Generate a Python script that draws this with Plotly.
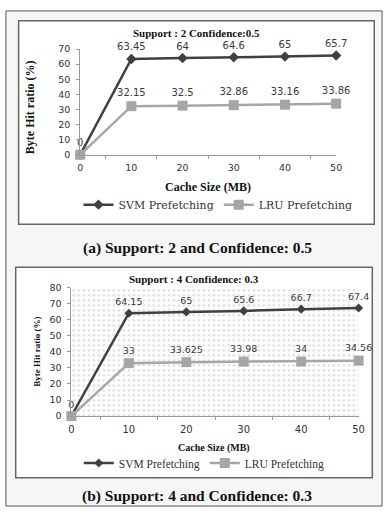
import plotly.graph_objects as go

# ---------------- data ----------------
cache_sizes = [0, 10, 20, 30, 40, 50]
svm_a = [0, 63.45, 64, 64.6, 65, 65.7]
lru_a = [0, 32.15, 32.5, 32.86, 33.16, 33.86]
svm_b = [0, 64.15, 65, 65.6, 66.7, 67.4]
lru_b = [0, 33, 33.625, 33.98, 34, 34.56]
y_ticks_a = [0, 10, 20, 30, 40, 50, 60, 70]
y_ticks_b = [0, 10, 20, 30, 40, 50, 60, 70, 80]
series_names = ["SVM Prefetching", "LRU Prefetching"]
title_a = "Support : 2 Confidence:0.5"
title_b = "Support : 4 Confidence: 0.3"
caption_a = "(a) Support: 2 and Confidence: 0.5"
caption_b = "(b) Support: 4 and Confidence: 0.3"
x_title = "Cache Size (MB)"
y_title = "Byte Hit ratio (%)"

W, H = 391, 514
def px(x):
    return x / W
def py(y):
    return 1 - y / H

SVM_COLOR = "#404040"
LRU_COLOR = "#a6a6a6"
SANS = "DejaVu Sans, Verdana, sans-serif"
SERIF = "'Liberation Serif', 'Times New Roman', Times, serif"
SERIF2 = "'DejaVu Serif', Georgia, serif"

def fmt(v):
    return f"{v:g}"

fig = go.Figure()

# dotted background of panel (b)
x0, x1 = min(cache_sizes), max(cache_sizes)
yb0, yb1 = min(y_ticks_b), max(y_ticks_b)
fig.add_trace(go.Scatter(
    x=[x0, x1, x1, x0, x0], y=[yb0, yb0, yb1, yb1, yb0],
    xaxis="x2", yaxis="y2", mode="lines", fill="toself",
    fillcolor="rgba(0,0,0,0)",
    fillpattern=dict(shape=".", fgcolor="#b4b4b4", bgcolor="white", size=5, solidity=0.2),
    line=dict(width=0), hoverinfo="skip", showlegend=False))

def add_panel(svm, lru, xa, ya, leg, dsize, ssize, lab_size):
    # where both series coincide only one label is visible (as in the source chart)
    lru_text = ["" if a == b else fmt(b) for a, b in zip(svm, lru)]
    fig.add_trace(go.Scatter(
        x=cache_sizes, y=svm, name=series_names[0], xaxis=xa, yaxis=ya, legend=leg,
        mode="lines+markers+text", text=[fmt(v) for v in svm], textposition="top center",
        textfont=dict(family=SANS, size=lab_size, color="#3a3a3a"),
        line=dict(color=SVM_COLOR, width=2.5),
        marker=dict(symbol="diamond", size=dsize, color=SVM_COLOR), cliponaxis=False))
    fig.add_trace(go.Scatter(
        x=cache_sizes, y=lru, name=series_names[1], xaxis=xa, yaxis=ya, legend=leg,
        mode="lines+markers+text", text=lru_text, textposition="top center",
        textfont=dict(family=SANS, size=lab_size, color="#3a3a3a"),
        line=dict(color=LRU_COLOR, width=2.5),
        marker=dict(symbol="square", size=ssize, color=LRU_COLOR), cliponaxis=False))

add_panel(svm_a, lru_a, "x", "y", "legend", 8, 10, 10)
add_panel(svm_b, lru_b, "x2", "y2", "legend2", 7, 10, 9.5)

def xaxis_cfg(domain, anchor, size):
    return dict(domain=domain, anchor=anchor, range=[x0, x1], tickvals=cache_sizes,
                ticktext=[fmt(v) for v in cache_sizes], ticks="", showline=True,
                linecolor="#9a9a9a", linewidth=1, showgrid=False, zeroline=False,
                ticklabelstandoff=4,
                tickfont=dict(family=SANS, size=size, color="#333"),
                minor=dict(ticks="outside", tick0=5, dtick=10, ticklen=3, tickcolor="#9a9a9a"))

def yaxis_cfg(domain, anchor, ticks, size):
    return dict(domain=domain, anchor=anchor, range=[ticks[0], ticks[-1]], tickvals=ticks,
                ticks="outside", ticklen=3, tickcolor="#9a9a9a", showline=True,
                linecolor="#9a9a9a", linewidth=1, showgrid=False, zeroline=False,
                ticklabelstandoff=4,
                tickfont=dict(family=SANS, size=size, color="#333"))

shapes = [
    dict(type="rect", xref="paper", yref="paper", x0=px(3), x1=px(388), y0=py(511), y1=py(5),
         line=dict(color="#555", width=1), fillcolor="#f6f6f6", layer="below"),
    dict(type="rect", xref="paper", yref="paper", x0=px(16), x1=px(380), y0=py(223), y1=py(15),
         line=dict(color="#666", width=1.5), fillcolor="white", layer="below"),
    dict(type="rect", xref="paper", yref="paper", x0=px(13), x1=px(378), y0=py(482), y1=py(267),
         line=dict(color="#666", width=1.5), fillcolor="white", layer="below"),
]

def ann(text, x, y, size, bold=True, family=SERIF, angle=0, color="#111"):
    t = f"<b>{text}</b>" if bold else text
    return dict(text=t, x=px(x), y=py(y), xref="paper", yref="paper", showarrow=False,
                xanchor="center", yanchor="middle", textangle=angle,
                font=dict(family=family, size=size, color=color))

annotations = [
    ann(title_a, 198, 28, 11),
    ann(x_title, 210, 185, 12),
    ann(y_title, 27, 103, 12, angle=-90),
    ann(caption_a, 199, 247, 15.5),
    ann(title_b, 195, 279, 11),
    ann(x_title, 216, 452, 10),
    ann(y_title, 35, 353, 9, angle=-90),
    ann(caption_b, 199, 501, 15.5),
]

fig.update_layout(
    width=W, height=H, autosize=False, margin=dict(l=0, r=0, t=0, b=0),
    paper_bgcolor="white", plot_bgcolor="rgba(0,0,0,0)",
    xaxis=xaxis_cfg([px(79), px(341)], "y", 9.5),
    yaxis=yaxis_cfg([py(152), py(44)], "x", y_ticks_a, 9.5),
    xaxis2=xaxis_cfg([px(70), px(364)], "y2", 10),
    yaxis2=yaxis_cfg([py(419), py(288)], "x2", y_ticks_b, 9.5),
    legend=dict(orientation="h", x=px(220), y=py(203), xanchor="center", yanchor="middle",
                font=dict(family=SERIF2, size=11, color="#333"),
                bgcolor="rgba(0,0,0,0)", itemwidth=30),
    legend2=dict(orientation="h", x=px(206), y=py(467), xanchor="center", yanchor="middle",
                 font=dict(family=SERIF, size=11.5, color="#333"),
                 bgcolor="rgba(0,0,0,0)", itemwidth=30),
    shapes=shapes, annotations=annotations, showlegend=True,
)

fig.write_html("out.html")
